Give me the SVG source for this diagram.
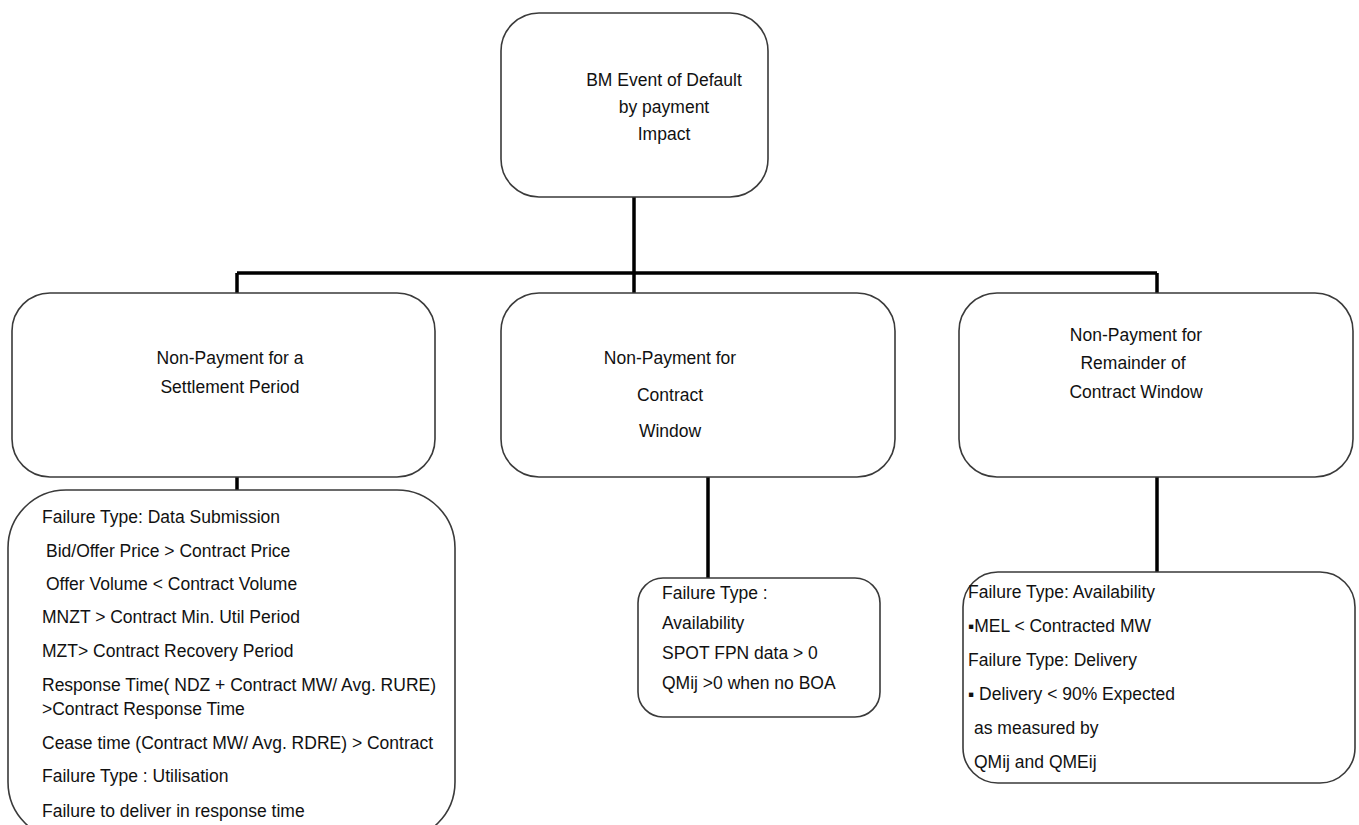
<svg xmlns="http://www.w3.org/2000/svg" width="1359" height="825" viewBox="0 0 1359 825">
<style>
.box{fill:#fff;stroke:#3a3a3a;stroke-width:1.6}
.t{font-family:"Liberation Sans",Arial,sans-serif;font-size:17.5px;fill:#111}
.c{text-anchor:middle}
.con{stroke:#000;stroke-width:3.5;fill:none}
</style>
<rect width="1359" height="825" fill="#fff"/>
<g id="connectors">
<path class="con" d="M634 197V273M237 273H1157M237 273V293M634 273V293M1157 273V293"/>
<path class="con" d="M237 477V490M708 477V578M1157 477V572"/>
</g>
<g id="n-top">
<rect class="box" x="501" y="13" width="267" height="184" rx="38"/>
<text class="t c" x="664" y="86">BM Event of Default</text>
<text class="t c" x="664" y="113">by payment</text>
<text class="t c" x="664" y="140">Impact</text>
</g>
<g id="n-settlement">
<rect class="box" x="12" y="293" width="423" height="184" rx="38"/>
<text class="t c" x="230" y="364">Non-Payment for a</text>
<text class="t c" x="230" y="393">Settlement Period</text>
</g>
<g id="n-window">
<rect class="box" x="501" y="293" width="394" height="184" rx="38"/>
<text class="t c" x="670" y="364">Non-Payment for</text>
<text class="t c" x="670" y="401">Contract</text>
<text class="t c" x="670" y="437">Window</text>
</g>
<g id="n-remainder">
<rect class="box" x="959" y="293" width="394" height="184" rx="38"/>
<text class="t c" x="1136" y="341">Non-Payment for</text>
<text class="t c" x="1133" y="369">Remainder of</text>
<text class="t c" x="1136" y="398">Contract Window</text>
</g>
<g id="n-data">
<rect class="box" x="8" y="490" width="447" height="350" rx="58"/>
<text class="t" x="42" y="523">Failure Type: Data Submission</text>
<text class="t" x="46" y="557">Bid/Offer Price &gt; Contract Price</text>
<text class="t" x="46" y="590">Offer Volume &lt; Contract Volume</text>
<text class="t" x="42" y="623">MNZT &gt; Contract Min. Util Period</text>
<text class="t" x="42" y="657">MZT&gt; Contract Recovery Period</text>
<text class="t" x="42" y="691">Response Time( NDZ + Contract MW/ Avg. RURE)</text>
<text class="t" x="42" y="715">&gt;Contract Response Time</text>
<text class="t" x="42" y="749">Cease time (Contract MW/  Avg. RDRE) &gt; Contract</text>
<text class="t" x="42" y="782">Failure Type : Utilisation</text>
<text class="t" x="42" y="817">Failure to deliver in response time</text>
</g>
<g id="n-availability">
<rect class="box" x="638" y="578" width="242" height="139" rx="25"/>
<text class="t" x="662" y="599">Failure Type :</text>
<text class="t" x="662" y="629">Availability</text>
<text class="t" x="662" y="659">SPOT FPN data &gt; 0</text>
<text class="t" x="662" y="689">QMij &gt;0 when no BOA</text>
</g>
<g id="n-delivery">
<rect class="box" x="963" y="572" width="392" height="211" rx="35"/>
<text class="t" x="968" y="598">Failure Type: Availability</text>
<text class="t" x="968" y="632">▪MEL &lt; Contracted MW</text>
<text class="t" x="968" y="666">Failure Type: Delivery</text>
<text class="t" x="968" y="700">▪ Delivery &lt; 90% Expected</text>
<text class="t" x="974" y="734">as measured by</text>
<text class="t" x="974" y="768">QMij and QMEij</text>
</g>
</svg>
